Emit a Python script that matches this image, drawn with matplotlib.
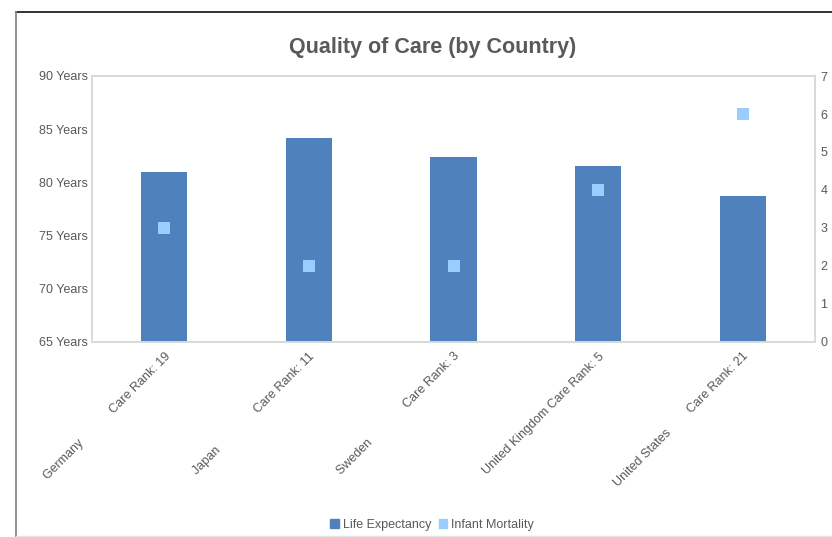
import matplotlib
matplotlib.use('Agg')
import matplotlib.pyplot as plt
from matplotlib.patches import Patch
from matplotlib.lines import Line2D
import numpy as np

plt.rcParams['font.family'] = ['Liberation Sans', 'DejaVu Sans']

# Data
countries = ['Germany', 'Japan', 'Sweden', 'United Kingdom', 'United States']
care_rank = [19, 11, 3, 5, 21]
pad_spaces = [12, 15, 14, 1, 8]
life_expectancy = [81.0, 84.2, 82.4, 81.5, 78.7]
infant_mortality = [3, 2, 2, 4, 6]
left_ticks = [65, 70, 75, 80, 85, 90]
right_ticks = [0, 1, 2, 3, 4, 5, 6, 7]

labels = [c + ' ' * p + 'Care Rank: ' + str(r)
          for c, p, r in zip(countries, pad_spaces, care_rank)]

text_col = '#595959'
grid_col = '#D9D9D9'
bar_col = '#4F81BD'
dot_col = '#99CCFF'

fig = plt.figure(figsize=(8.32, 5.37), dpi=100)
W, H = 832, 537
ax = fig.add_axes([92 / W, 1 - 342 / H, (815 - 92) / W, (342 - 76) / H])

x = np.arange(len(countries))
ax.bar(x, life_expectancy, width=0.32, color=bar_col, zorder=2)
ax.set_xlim(-0.5, len(countries) - 0.5)
ax.set_ylim(65, 90)
ax.set_yticks(left_ticks)
ax.set_yticklabels([f'{v} Years' for v in left_ticks])
ax.set_xticks(x)
ax.set_xticklabels(labels, rotation=45, ha='right', rotation_mode='anchor')
ax.tick_params(axis='both', length=0, labelsize=9, labelcolor=text_col)
ax.tick_params(axis='y', pad=3)
ax.tick_params(axis='x', pad=6)
for s in ax.spines.values():
    s.set_color(grid_col)
    s.set_linewidth(1.2)

ax2 = ax.twinx()
ax2.scatter(x, infant_mortality, marker='s', s=72, color=dot_col, zorder=3, linewidths=0)
ax2.set_ylim(0, 7)
ax2.set_yticks(right_ticks)
ax2.tick_params(axis='y', length=0, labelsize=9, labelcolor=text_col, pad=4)
for s in ax2.spines.values():
    s.set_color(grid_col)
    s.set_linewidth(1.2)

fig.text(433 / W, 1 - 48 / H, 'Quality of Care (by Country)', ha='center', va='center',
         fontsize=15.5, fontweight='bold', color=text_col)

handles = [Patch(color=bar_col, label='Life Expectancy'),
           Patch(color=dot_col, label='Infant Mortality')]
fig.legend(handles=handles, loc='center', bbox_to_anchor=(432 / W, 1 - 525 / H), ncol=2,
           frameon=False, fontsize=9, labelcolor=text_col, handlelength=0.7,
           handleheight=0.7, handletextpad=0.3, columnspacing=0.6)

# outer chart border
fig.add_artist(Line2D([16 / W, 1], [1 - 12 / H, 1 - 12 / H], color='#222222', lw=1.3))
fig.add_artist(Line2D([16 / W, 16 / W], [0, 1 - 12 / H], color='#888888', lw=1.3))
fig.add_artist(Line2D([16 / W, 1], [1 / H, 1 / H], color='#E6E6E6', lw=1))

fig.savefig('out.png', dpi=100)
